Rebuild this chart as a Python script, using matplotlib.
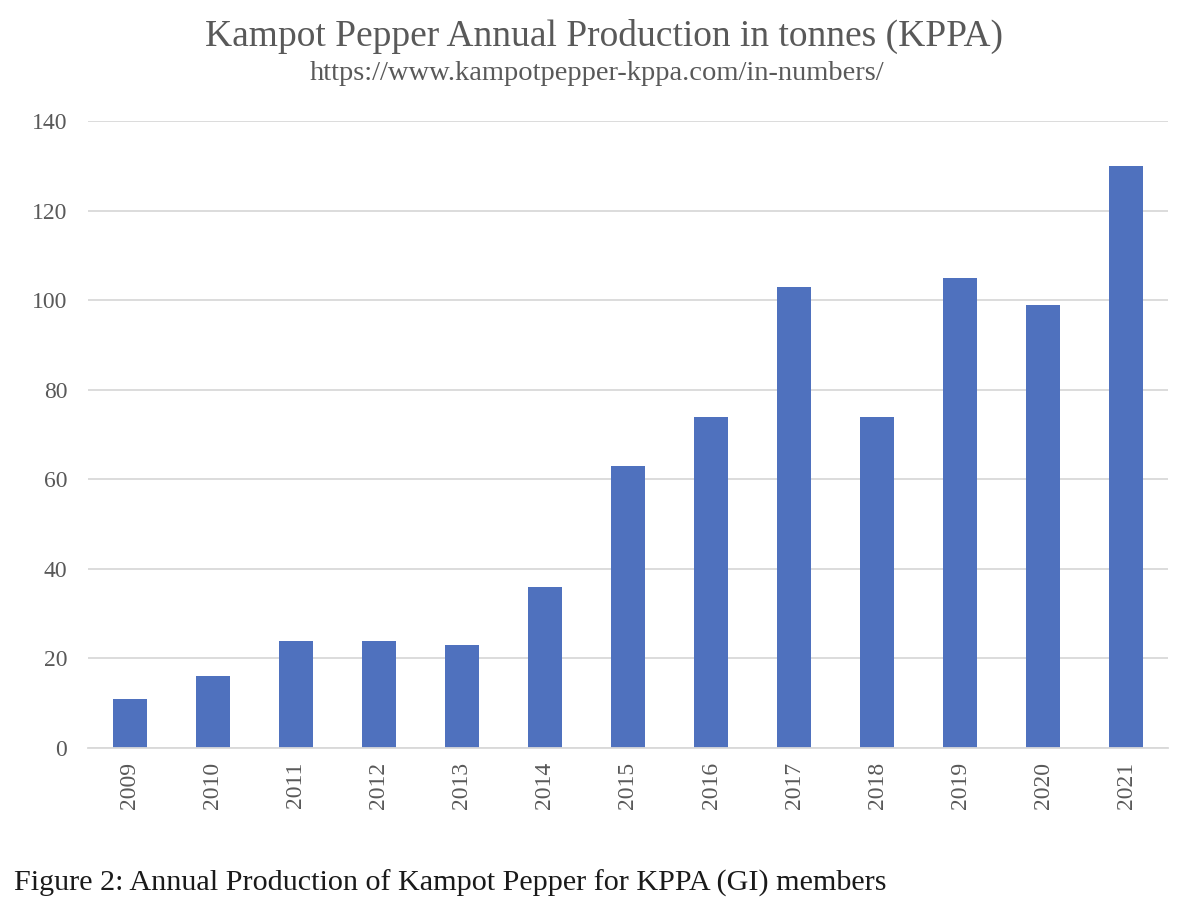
import matplotlib
matplotlib.use("Agg")
import matplotlib.pyplot as plt

years = ["2009", "2010", "2011", "2012", "2013", "2014", "2015",
         "2016", "2017", "2018", "2019", "2020", "2021"]
tonnes = [11, 16, 24, 24, 23, 36, 63, 74, 103, 74, 105, 99, 130]
y_ticks = [0, 20, 40, 60, 80, 100, 120, 140]

text_gray = "#595959"
bar_blue = "#4F71BE"
grid_gray = "#D9D9D9"

plt.rcParams["font.family"] = ["Liberation Serif", "DejaVu Serif"]

fig = plt.figure(figsize=(11.85, 9.16), dpi=100)
ax = fig.add_axes([88 / 1185, 1 - 748 / 916, 1080 / 1185, 627 / 916])

x = list(range(len(years)))
ax.bar(x, tonnes, width=0.41, color=bar_blue, zorder=3)

ax.set_xlim(-0.5, len(years) - 0.5)
ax.set_ylim(0, 140)
ax.set_yticks(y_ticks)
ax.set_xticks(x)
ax.set_xticklabels(years, rotation=90)
ax.tick_params(axis="both", length=0, labelsize=17, labelcolor=text_gray)
ax.tick_params(axis="y", pad=15)
ax.tick_params(axis="x", pad=10)

ax.grid(axis="y", color=grid_gray, linewidth=1.3, zorder=0)
for side in ["top", "right", "left"]:
    ax.spines[side].set_visible(False)
ax.spines["bottom"].set_color(grid_gray)
ax.spines["bottom"].set_linewidth(1.3)
ax.spines["bottom"].set_zorder(4)

fig.text(604 / 1185, 1 - 36 / 916, "Kampot Pepper Annual Production in tonnes (KPPA)",
         ha="center", va="center", fontsize=27, color=text_gray)
fig.text(597 / 1185, 1 - 73 / 916, "https://www.kampotpepper-kppa.com/in-numbers/",
         ha="center", va="center", fontsize=20.5, color=text_gray)
fig.text(14 / 1185, 1 - 883 / 916, "Figure 2: Annual Production of Kampot Pepper for KPPA (GI) members",
         ha="left", va="center", fontsize=21.7, color="#1a1a1a")

fig.savefig("out.png", dpi=100)
